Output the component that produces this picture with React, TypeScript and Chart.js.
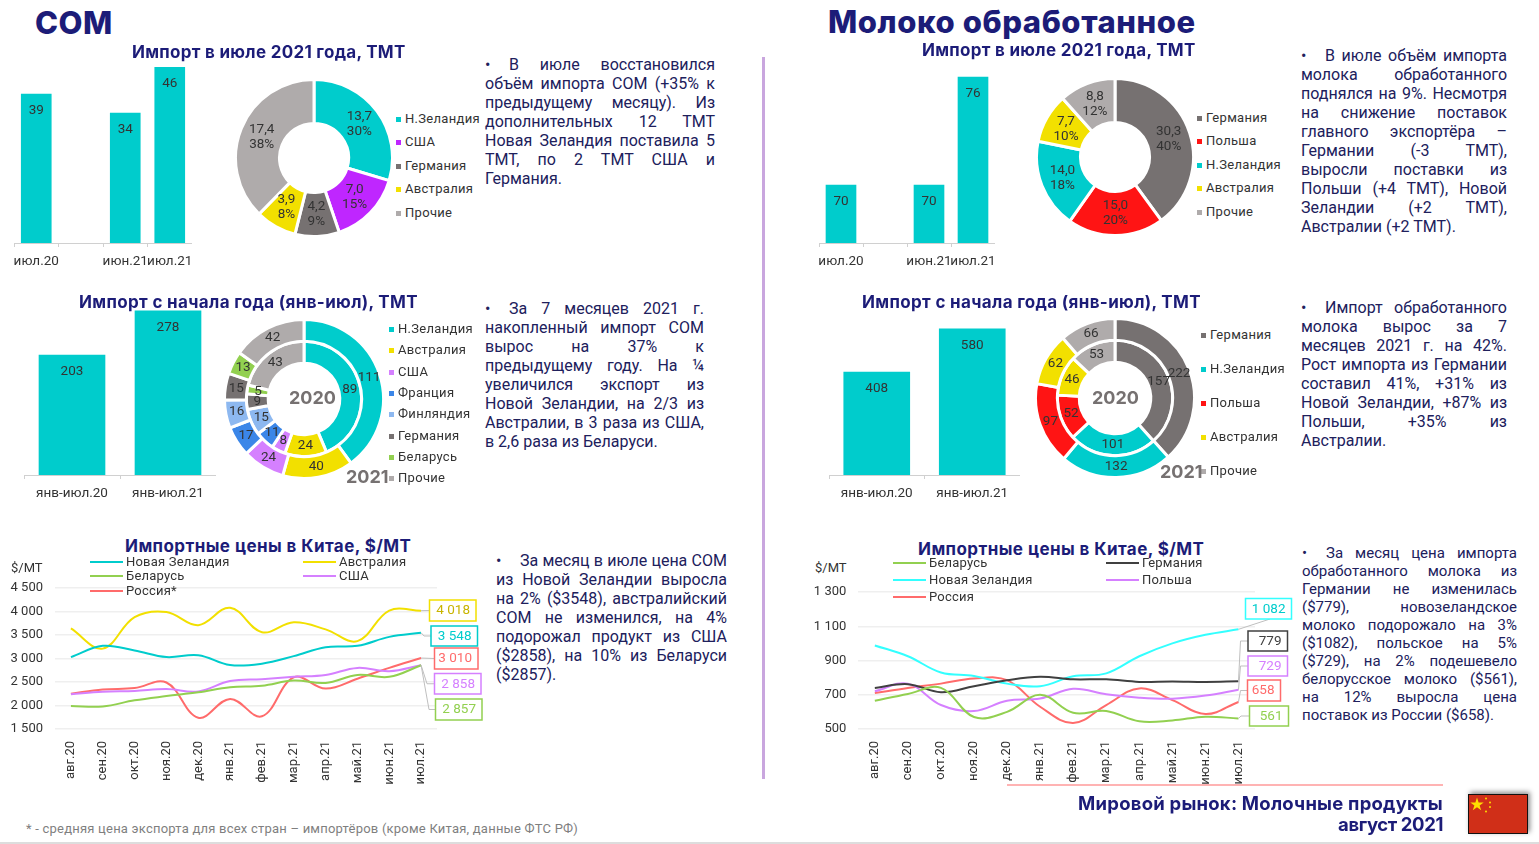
import React, { useEffect, useRef } from "react";
import { Chart, registerables } from "chart.js";

Chart.register(...registerables);

// ---------- DATA ----------
const julyCategories = ["июл.20", "", "июн.21", "июл.21"];
const comJulyBars = [39, null, 34, 46];
const milkJulyBars = [70, null, 70, 76];
const ytdCategories = ["янв-июл.20", "янв-июл.21"];
const comYtdBars = [203, 278];
const milkYtdBars = [408, 580];

const comJulyNames = ["Н.Зеландия", "США", "Германия", "Австралия", "Прочие"];
const comJulyValues = [13.7, 7.0, 4.2, 3.9, 17.4];
const comJulyShares = ["30%", "15%", "9%", "8%", "38%"];

const milkJulyNames = ["Германия", "Польша", "Н.Зеландия", "Австралия", "Прочие"];
const milkJulyValues = [30.3, 15.0, 14.0, 7.7, 8.8];
const milkJulyShares = ["40%", "20%", "18%", "10%", "12%"];

const comYtdNames = ["Н.Зеландия", "Австралия", "США", "Франция", "Финляндия", "Германия", "Беларусь", "Прочие"];
const comYtd2021 = [111, 40, 24, 17, 16, 15, 13, 42];
const comYtd2020 = [89, 24, 8, 11, 15, 9, 5, 43];

const milkYtdNames = ["Германия", "Н.Зеландия", "Польша", "Австралия", "Прочие"];
const milkYtd2021 = [222, 132, 97, 62, 66];
const milkYtd2020 = [157, 101, 52, 46, 53];

const months = ["авг.20", "сен.20", "окт.20", "ноя.20", "дек.20", "янв.21", "фев.21", "мар.21", "апр.21", "май.21", "июн.21", "июл.21"];

const comPriceNz = [3030, 3270, 3170, 3030, 3070, 2860, 2890, 3050, 3240, 3270, 3460, 3548];
const comPriceAu = [3640, 3210, 3880, 3990, 3710, 4080, 3560, 3770, 3620, 3370, 4020, 4018];
const comPriceBy = [1990, 1980, 2110, 2200, 2280, 2390, 2420, 2530, 2480, 2650, 2610, 2857];
const comPriceUs = [2240, 2290, 2310, 2350, 2300, 2520, 2560, 2610, 2650, 2800, 2730, 2858];
const comPriceRu = [2250, 2340, 2370, 2490, 1740, 2140, 1770, 2600, 2360, 2570, 2800, 3010];

const milkPriceBy = [665, 705, 740, 570, 600, 700, 595, 605, 545, 550, 572, 561];
const milkPriceDe = [740, 762, 715, 750, 785, 805, 790, 790, 775, 778, 775, 779];
const milkPriceNz = [988, 925, 830, 810, 765, 750, 808, 825, 925, 1000, 1050, 1082];
const milkPricePl = [720, 765, 640, 605, 665, 678, 735, 703, 683, 677, 695, 729];
const milkPriceRu = [710, 740, 765, 795, 785, 630, 535, 640, 737, 669, 587, 658];

// ---------- STYLE ----------
const TEAL = "#00CCCC";
const YELLOW = "#F2E000";
const GREY = "#767171";
const LGREY = "#AFABAB";
const PURPLE = "#BF26FF";
const LILAC = "#D580FF";
const RED = "#FF1414";
const BLUE = "#3B86E8";
const LBLUE = "#8DB8F0";
const GREEN = "#92D050";
const SALMON = "#FF6B6B";
const CYAN = "#33FFFF";
const DARK = "#404040";
const NAVY = "#1C1C78";
const INK = "#20205C";
const TEXT = "#333333";
const TITLE_FONT = "Inter, 'Noto Sans', sans-serif";
const BODY_FONT = "Roboto, sans-serif";

type Rect = { x: number; y: number; w: number; h: number };

function ChartBox({ rect, make }: { rect: Rect; make: (c: HTMLCanvasElement) => Chart }) {
  const ref = useRef<HTMLCanvasElement>(null);
  useEffect(() => {
    const chart = make(ref.current as HTMLCanvasElement);
    return () => chart.destroy();
  }, []);
  return (
    <canvas
      ref={ref}
      width={rect.w}
      height={rect.h}
      style={{ position: "absolute", left: rect.x, top: rect.y, width: rect.w, height: rect.h }}
    />
  );
}

// ---------- BAR ----------
const barLabels = {
  id: "barLabels",
  afterDatasetsDraw(chart: any) {
    const ctx = chart.ctx;
    const meta = chart.getDatasetMeta(0);
    ctx.save();
    ctx.font = `13.5px ${BODY_FONT}`;
    ctx.fillStyle = TEXT;
    ctx.textAlign = "center";
    ctx.textBaseline = "middle";
    meta.data.forEach((b: any, i: number) => {
      const v = chart.data.datasets[0].data[i];
      if (v != null) ctx.fillText(String(v), b.x, b.y + 16.5);
    });
    ctx.restore();
  },
};

function BarChart({ rect, cats, vals, min, max, axisH, thick }: any) {
  return (
    <ChartBox
      rect={rect}
      make={(c) =>
        new Chart(c, {
          type: "bar",
          data: { labels: cats, datasets: [{ data: vals, backgroundColor: TEAL, barThickness: thick }] },
          options: {
            animation: false,
            responsive: false,
            layout: { autoPadding: false, padding: 0 },
            plugins: { legend: { display: false }, tooltip: { enabled: false } },
            scales: {
              y: { display: false, min, max },
              x: {
                afterFit: (s: any) => {
                  s.height = axisH;
                  s.paddingLeft = 0;
                  s.paddingRight = 0;
                },
                border: { color: "#D0D0D0" },
                grid: { offset: true, drawOnChartArea: false, tickLength: 4, color: "#D0D0D0" },
                ticks: { autoSkip: false, maxRotation: 0, minRotation: 0, padding: 7, color: TEXT, font: { family: BODY_FONT, size: 13.5 } },
              },
            },
          } as any,
          plugins: [barLabels],
        })
      }
    />
  );
}

// ---------- DOUGHNUT ----------
const sliceLabels = {
  id: "sliceLabels",
  afterDatasetsDraw(chart: any, _a: any, opts: any) {
    const ctx = chart.ctx;
    ctx.save();
    ctx.font = `13.5px ${BODY_FONT}`;
    ctx.fillStyle = TEXT;
    ctx.textAlign = "center";
    ctx.textBaseline = "middle";
    chart.data.datasets.forEach((ds: any, di: number) => {
      chart.getDatasetMeta(di).data.forEach((arc: any, i: number) => {
        const p = arc.tooltipPosition();
        const lines: string[] = opts.lines[di][i];
        const lh = 15;
        lines.forEach((t, k) => ctx.fillText(t, p.x, p.y + (k - (lines.length - 1) / 2) * lh));
      });
    });
    ctx.restore();
  },
};

function Donut({ cx, cy, r, sets, colors, cutout, lines }: any) {
  const half = r + 3;
  const rect = { x: cx - half, y: cy - half, w: 2 * half, h: 2 * half };
  return (
    <ChartBox
      rect={rect}
      make={(c) =>
        new Chart(c, {
          type: "doughnut",
          data: {
            labels: colors.map((_: string, i: number) => String(i)),
            datasets: sets.map((d: number[]) => ({ data: d, backgroundColor: colors, borderColor: "#FFFFFF", borderWidth: 3 })),
          },
          options: {
            animation: false,
            responsive: false,
            cutout,
            layout: { padding: 0 },
            plugins: { legend: { display: false }, tooltip: { enabled: false }, sliceLabels: { lines } },
          } as any,
          plugins: [sliceLabels],
        })
      }
    />
  );
}

const dec = (v: number) => v.toFixed(1).replace(".", ",");

// ---------- LINES ----------
const fmt = (v: number) => String(v).replace(/\B(?=(\d{3})+$)/g, " ");

type Callout = { ds: number; x0: number; x1: number; y0: number; y1: number; ex?: number; ey?: number; text: string };

const callouts = {
  id: "callouts",
  afterDatasetsDraw(chart: any, _a: any, opts: any) {
    const ctx = chart.ctx;
    const ox = opts.ox, oy = opts.oy;
    ctx.save();
    opts.items.forEach((it: Callout) => {
      const meta = chart.getDatasetMeta(it.ds);
      const p = meta.data[meta.data.length - 1];
      const ds = chart.data.datasets[it.ds];
      const x0 = it.x0 - ox, x1 = it.x1 - ox, y0 = it.y0 - oy, y1 = it.y1 - oy;
      const my = (y0 + y1) / 2;
      ctx.strokeStyle = "#BFBFBF";
      ctx.lineWidth = 1;
      ctx.beginPath();
      ctx.moveTo(p.x, p.y);
      if (it.ex != null) {
        ctx.lineTo(it.ex - ox, it.ey != null ? it.ey - oy : my);
        if (it.ey == null) ctx.lineTo(x0, my);
      } else {
        ctx.lineTo(x0, my);
      }
      ctx.stroke();
      ctx.fillStyle = "#FFFFFF";
      ctx.fillRect(x0, y0, x1 - x0, y1 - y0);
      ctx.strokeStyle = ds.borderColor;
      ctx.lineWidth = 1.5;
      ctx.strokeRect(x0, y0, x1 - x0, y1 - y0);
      ctx.fillStyle = it.text || ds.borderColor;
      ctx.font = `13.5px ${BODY_FONT}`;
      ctx.textAlign = "right";
      ctx.textBaseline = "middle";
      ctx.fillText(fmt(ds.data[ds.data.length - 1]), x1 - 6, my + 0.5);
    });
    ctx.restore();
  },
};

function LineChart({ rect, series, min, max, step, plotLeft, plotRight, plotTop, plotBottom, items }: any) {
  return (
    <ChartBox
      rect={rect}
      make={(c) =>
        new Chart(c, {
          type: "line",
          data: {
            labels: months,
            datasets: series.map((s: any) => ({
              data: s.data,
              borderColor: s.color,
              borderWidth: 2,
              pointRadius: 0,
              tension: 0.38,
              fill: false,
            })),
          },
          options: {
            animation: false,
            responsive: false,
            layout: {
              autoPadding: false,
              padding: { left: 0, top: plotTop - rect.y, right: rect.x + rect.w - plotRight, bottom: 0 },
            },
            plugins: {
              legend: { display: false },
              tooltip: { enabled: false },
              callouts: { ox: rect.x, oy: rect.y, items },
            },
            scales: {
              y: {
                min,
                max,
                afterFit: (s: any) => {
                  s.width = plotLeft - rect.x;
                  s.paddingTop = 0;
                  s.paddingBottom = 0;
                },
                border: { display: false },
                grid: { color: "#EFEFEF", drawTicks: false, lineWidth: 1.5 },
                ticks: { stepSize: step, padding: 12, color: TEXT, callback: (v: any) => fmt(v), font: { family: BODY_FONT, size: 13 } },
              },
              x: {
                offset: true,
                afterFit: (s: any) => {
                  s.height = rect.y + rect.h - plotBottom;
                  s.paddingLeft = 0;
                  s.paddingRight = 0;
                },
                border: { display: false },
                grid: { display: false },
                ticks: { autoSkip: false, minRotation: 90, maxRotation: 90, padding: 4, color: TEXT, font: { family: BODY_FONT, size: 13 } },
              },
            },
          } as any,
          plugins: [callouts],
        })
      }
    />
  );
}

// ---------- TEXT ----------
function T({ x, y, s, w = 700, c = NAVY, ls = 0, f = TITLE_FONT, right, children }: any) {
  return (
    <div
      style={{
        position: "absolute",
        ...(right != null ? { right: 1539 - right } : { left: x }),
        top: y - s * 0.75,
        fontFamily: f,
        fontSize: s,
        lineHeight: `${s * 1.5}px`,
        fontWeight: w,
        color: c,
        letterSpacing: ls,
        whiteSpace: "nowrap",
        zIndex: 3,
      }}
    >
      {children}
    </div>
  );
}

function Para({ x, y, w, lines, s = 16, lh = 19 }: any) {
  return (
    <div style={{ position: "absolute", left: x, top: y - lh / 2, width: w, fontFamily: BODY_FONT, fontSize: s, lineHeight: `${lh}px`, color: INK, zIndex: 3 }}>
      {lines.map((l: string, i: number) => (
        <div key={i} style={{ display: "flex", whiteSpace: "nowrap" }}>
          {i === 0 && <span style={{ width: 24, flex: "none" }}>•</span>}
          <div style={{ flex: 1, whiteSpace: "normal", textAlign: "justify", textAlignLast: i === lines.length - 1 ? "left" : "justify" }}>{l}</div>
        </div>
      ))}
    </div>
  );
}

function SquareLegend({ x, ys, names, colors, ls = 0.3 }: any) {
  return (
    <>
      {names.map((n: string, i: number) => (
        <React.Fragment key={n}>
          <div style={{ position: "absolute", left: x - 9.5, top: ys[i] - 2.5, width: 5, height: 5, background: colors[i] }} />
          <T x={x} y={ys[i]} s={13} w={400} c={TEXT} f={BODY_FONT} ls={ls}>{n}</T>
        </React.Fragment>
      ))}
    </>
  );
}

function LineLegend({ items }: any) {
  return (
    <>
      {items.map((it: any) => (
        <React.Fragment key={it.n}>
          <div style={{ position: "absolute", left: it.x, top: it.y - 1, width: 33, height: 2, background: it.c, zIndex: 3 }} />
          <T x={it.x + 36} y={it.y} s={13} w={400} c={TEXT} f={BODY_FONT} ls={0.2}>{it.n}</T>
        </React.Fragment>
      ))}
    </>
  );
}

// ---------- PAGE ----------
const text1 = ["В июле восстановился", "объём импорта СОМ (+35% к", "предыдущему месяцу). Из", "дополнительных 12 ТМТ", "Новая Зеландия поставила 5", "ТМТ, по 2 ТМТ США и", "Германия."];
const text2 = ["За 7 месяцев 2021 г.", "накопленный импорт СОМ", "вырос на 37% к", "предыдущему году. На ¼", "увеличился экспорт из", "Новой Зеландии, на 2/3 из", "Австралии, в 3 раза из США,", "в 2,6 раза из Беларуси."];
const text3 = ["За месяц в июле цена СОМ", "из Новой Зеландии выросла", "на 2% ($3548), австралийский", "СОМ не изменился, на 4%", "подорожал продукт из США", "($2858), на 10% из Беларуси", "($2857)."];
const text4 = ["В июле объём импорта", "молока обработанного", "поднялся на 9%. Несмотря", "на снижение поставок", "главного экспортёра –", "Германии (-3 ТМТ),", "выросли поставки из", "Польши (+4 ТМТ), Новой", "Зеландии (+2 ТМТ),", "Австралии (+2 ТМТ)."];
const text5 = ["Импорт обработанного", "молока вырос за 7", "месяцев 2021 г. на 42%.", "Рост импорта из Германии", "составил 41%, +31% из", "Новой Зеландии, +87% из", "Польши, +35% из", "Австралии."];
const text6 = ["За месяц цена импорта", "обработанного молока из", "Германии не изменилась", "($779), новозеландское", "молоко подорожало на 3%", "($1082), польское на 5%", "($729), на 2% подешевело", "белорусское молоко ($561),", "на 12% выросла цена", "поставок из России ($658)."];

const comJulyColors = [TEAL, PURPLE, GREY, YELLOW, LGREY];
const milkJulyColors = [GREY, RED, TEAL, YELLOW, LGREY];
const comYtdColors = [TEAL, YELLOW, LILAC, BLUE, LBLUE, GREY, GREEN, LGREY];
const milkYtdColors = [GREY, TEAL, RED, YELLOW, LGREY];

const pairLines = (vals: number[], shares: string[]) => vals.map((v, i) => [dec(v), shares[i]]);
const oneLines = (vals: number[]) => vals.map((v) => [String(v)]);

export default function App() {
  return (
    <div style={{ position: "absolute", left: 0, top: 0, width: 1539, height: 844, background: "#FFFFFF", overflow: "hidden" }}>
      <T x={35} y={23} s={31} w={800} ls={0.5}>СОМ</T>
      <T x={828} y={22} s={31} w={800} ls={0.58}>Молоко обработанное</T>

      <T x={132} y={53} s={17} ls={0.29}>Импорт в июле 2021 года, ТМТ</T>
      <T x={922} y={51} s={17} ls={0.29}>Импорт в июле 2021 года, ТМТ</T>
      <T x={79} y={303} s={17} ls={0.34}>Импорт с начала года (янв-июл), ТМТ</T>
      <T x={862} y={303} s={17} ls={0.34}>Импорт с начала года (янв-июл), ТМТ</T>
      <T x={125} y={547} s={17} ls={0.43}>Импортные цены в Китае, $/МТ</T>
      <T x={918} y={550} s={17} ls={0.43}>Импортные цены в Китае, $/МТ</T>

      <BarChart rect={{ x: 14, y: 60, w: 178, h: 210 }} cats={julyCategories} vals={comJulyBars} min={0} max={47.9} axisH={27} thick={30} />
      <BarChart rect={{ x: 819, y: 60, w: 176, h: 210 }} cats={julyCategories} vals={milkJulyBars} min={66.78} max={76.95} axisH={27} thick={30} />
      <BarChart rect={{ x: 24, y: 305, w: 192, h: 197 }} cats={ytdCategories} vals={comYtdBars} min={0} max={288} axisH={27} thick={66} />
      <BarChart rect={{ x: 829, y: 310, w: 191, h: 192 }} cats={ytdCategories} vals={milkYtdBars} min={0} max={654.8} axisH={27} thick={66} />

      <Donut cx={313.5} cy={158} r={77} sets={[comJulyValues]} colors={comJulyColors} cutout="44%" lines={[pairLines(comJulyValues, comJulyShares)]} />
      <Donut cx={1115} cy={157} r={77} sets={[milkJulyValues]} colors={milkJulyColors} cutout="44%" lines={[pairLines(milkJulyValues, milkJulyShares)]} />
      <Donut cx={303.5} cy={399} r={78} sets={[comYtd2021, comYtd2020]} colors={comYtdColors} cutout="45%" lines={[oneLines(comYtd2021), oneLines(comYtd2020)]} />
      <Donut cx={1115.3} cy={398} r={78} sets={[milkYtd2021, milkYtd2020]} colors={milkYtdColors} cutout="45%" lines={[oneLines(milkYtd2021), oneLines(milkYtd2020)]} />

      <T x={289} y={397} s={18} c={GREY}>2020</T>
      <T x={346} y={476} s={18} c={GREY}>2021</T>
      <T x={1092} y={397} s={18} c={GREY}>2020</T>
      <T x={1160} y={471} s={18} c={GREY}>2021</T>

      <SquareLegend x={405} ys={[119, 142, 166, 189, 213]} names={comJulyNames} colors={comJulyColors} />
      <SquareLegend x={1206} ys={[118, 141, 165, 188, 212]} names={milkJulyNames} colors={milkJulyColors} />
      <SquareLegend x={398} ys={[329, 350, 372, 393, 414, 436, 457, 478]} names={comYtdNames} colors={comYtdColors} />
      <SquareLegend x={1210} ys={[335, 369, 403, 437, 471]} names={milkYtdNames} colors={milkYtdColors} />

      <Para x={485} y={64} w={230} lines={text1} />
      <Para x={485} y={308} w={219} lines={text2} />
      <Para x={496} y={560} w={231} lines={text3} />
      <Para x={1301} y={55} w={206} lines={text4} />
      <Para x={1301} y={307} w={206} lines={text5} />
      <Para x={1302} y={553} w={215} lines={text6} s={15} lh={18} />

      <T x={11} y={568} s={13} w={400} c={TEXT} f={BODY_FONT}>$/МТ</T>
      <T x={815} y={568} s={13} w={400} c={TEXT} f={BODY_FONT}>$/МТ</T>

      <LineChart
        rect={{ x: 0, y: 575, w: 490, h: 215 }}
        min={1500} max={4500} step={500}
        plotLeft={55} plotRight={437} plotTop={588} plotBottom={729}
        series={[
          { data: comPriceNz, color: TEAL },
          { data: comPriceAu, color: YELLOW },
          { data: comPriceBy, color: GREEN },
          { data: comPriceUs, color: LILAC },
          { data: comPriceRu, color: SALMON },
        ]}
        items={[
          { ds: 1, x0: 429.5, x1: 476, y0: 600, y1: 621, text: "#C8B400" },
          { ds: 0, x0: 431, x1: 477.5, y0: 626, y1: 646, ex: 424 },
          { ds: 4, x0: 434.5, x1: 478, y0: 648, y1: 669 },
          { ds: 3, x0: 434.5, x1: 481, y0: 673.5, y1: 694, ex: 427 },
          { ds: 2, x0: 435.5, x1: 482, y0: 699, y1: 720, ex: 429 },
        ]}
      />
      <LineChart
        rect={{ x: 790, y: 580, w: 510, h: 210 }}
        min={500} max={1300} step={200}
        plotLeft={858.3} plotRight={1255} plotTop={592} plotBottom={729}
        series={[
          { data: milkPriceBy, color: GREEN },
          { data: milkPriceDe, color: DARK },
          { data: milkPriceNz, color: CYAN },
          { data: milkPricePl, color: LILAC },
          { data: milkPriceRu, color: SALMON },
        ]}
        items={[
          { ds: 2, x0: 1245.5, x1: 1291.5, y0: 598.5, y1: 619, ex: 1270, ey: 619, text: TEAL },
          { ds: 1, x0: 1248, x1: 1287.5, y0: 631, y1: 651, ex: 1240.5 },
          { ds: 3, x0: 1248, x1: 1287.5, y0: 656, y1: 676, ex: 1240.5 },
          { ds: 4, x0: 1247.5, x1: 1280.5, y0: 680, y1: 701, ex: 1240.5 },
          { ds: 0, x0: 1249.5, x1: 1288.5, y0: 706, y1: 726, ex: 1241 },
        ]}
      />

      <LineLegend
        items={[
          { n: "Новая Зеландия", c: TEAL, x: 90, y: 562 },
          { n: "Австралия", c: YELLOW, x: 303, y: 562 },
          { n: "Беларусь", c: GREEN, x: 90, y: 576 },
          { n: "США", c: LILAC, x: 303, y: 576 },
          { n: "Россия*", c: SALMON, x: 90, y: 591 },
        ]}
      />
      <LineLegend
        items={[
          { n: "Беларусь", c: GREEN, x: 893, y: 563 },
          { n: "Германия", c: DARK, x: 1106, y: 563 },
          { n: "Новая Зеландия", c: CYAN, x: 893, y: 580 },
          { n: "Польша", c: LILAC, x: 1106, y: 580 },
          { n: "Россия", c: SALMON, x: 893, y: 597 },
        ]}
      />

      <div style={{ position: "absolute", left: 761.5, top: 57, width: 3, height: 722, background: "#C9A6DE" }} />
      <div style={{ position: "absolute", left: 1007, top: 783.5, width: 436, height: 2, background: "#FFB3B3" }} />
      <T right={1443} y={804} s={18.5} ls={0.22}>Мировой рынок: Молочные продукты</T>
      <T right={1443} y={825} s={18.5} ls={-0.4}>август 2021</T>
      <T x={26} y={829} s={13} w={400} c="#7F7F7F" f={BODY_FONT} ls={0.22}>* - средняя цена экспорта для всех стран – импортёров (кроме Китая, данные ФТС РФ)</T>

      <svg width={60} height={40} style={{ position: "absolute", left: 1468, top: 794, boxShadow: "2px -2px 5px rgba(0,0,0,0.45)" }}>
        <rect x={0.5} y={0.5} width={59} height={39} fill="#D02F18" stroke="#111" />
        <polygon transform="translate(1,-2)" points="8,5.5 9.6,10.4 14.7,10.4 10.6,13.4 12.2,18.3 8,15.3 3.8,18.3 5.4,13.4 1.3,10.4 6.4,10.4" fill="#FFDE00" />
        <circle cx={18} cy={4.5} r={1} fill="#FFDE00" />
        <circle cx={22} cy={8.5} r={1} fill="#FFDE00" />
        <circle cx={22} cy={13} r={1} fill="#FFDE00" />
        <circle cx={18} cy={17.5} r={1} fill="#FFDE00" />
      </svg>
      <div style={{ position: "absolute", left: 0, top: 842, width: 1539, height: 2, background: "#DDDDDD" }} />
    </div>
  );
}
